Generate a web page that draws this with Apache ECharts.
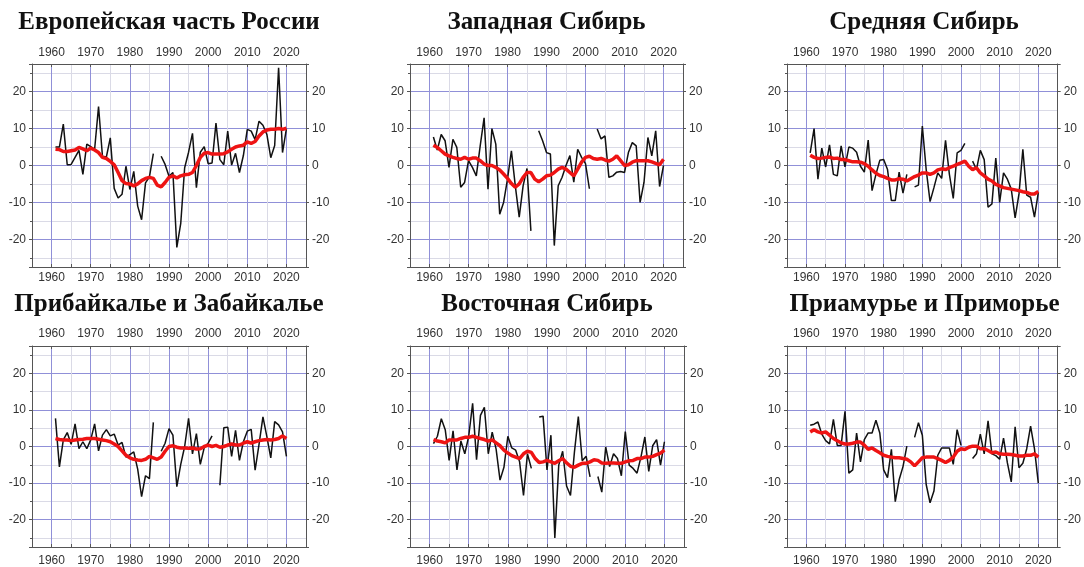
<!DOCTYPE html>
<html>
<head>
<meta charset="utf-8">
<script src="https://cdn.jsdelivr.net/npm/echarts@6/dist/echarts.min.js"></script>
<style>
  html, body { margin: 0; padding: 0; background: #fff; }
  #chart { width: 1084px; height: 567px; }
</style>
</head>
<body>
<div id="chart"></div>
<script>
// годы наблюдений
const years = [
  1961, 1962, 1963, 1964, 1965, 1966, 1967, 1968, 1969, 1970,
  1971, 1972, 1973, 1974, 1975, 1976, 1977, 1978, 1979, 1980,
  1981, 1982, 1983, 1984, 1985, 1986, 1987, 1988, 1989, 1990,
  1991, 1992, 1993, 1994, 1995, 1996, 1997, 1998, 1999, 2000,
  2001, 2002, 2003, 2004, 2005, 2006, 2007, 2008, 2009, 2010,
  2011, 2012, 2013, 2014, 2015, 2016, 2017, 2018, 2019, 2020
];

const titles = [
  'Европейская часть России', 'Западная Сибирь', 'Средняя Сибирь',
  'Прибайкалье и Забайкалье', 'Восточная Сибирь', 'Приамурье и Приморье'
];

const xTicks = [1960, 1970, 1980, 1990, 2000, 2010, 2020];
const yTicks = [-20, -10, 0, 10, 20];

// Европейская часть России
const europeYear = [
  5, 5, 11.2, 0.2, 0.3, 2.2, 4.1, -2.4, 5.8, 5.1,
  4.4, 16, 2.5, 2.3, 7.5, -6.2, -8.8, -7.8, -0.2, -6.5,
  -1.6, -11, -14.7, -4.7, -3.1, 3.2, null, 2.5, 0.3, -2.9,
  -1.9, -22.2, -15.7, -0.6, 3.6, 8.7, -6, 3.6, 5.1, 0.5,
  0.7, 11.5, 1.6, 0.2, 9.3, 0.1, 3.3, -1.9, 2.7, 9.8,
  9.3, 7, 12, 10.9, 8.4, 2.1, 5.4, 26.5, 3.5, 10
];
const europeSmooth = [
  4.4, 4.3, 3.8, 3.8, 4.0, 4.2, 4.9, 4.5, 4.0, 4.7,
  4.2, 3.5, 2.2, 1.9, 1.1, 0.2, -1.9, -4.1, -4.9, -5.0,
  -5.5, -5.0, -4.1, -3.5, -3.2, -3.5, -5.3, -5.8, -4.6, -3.2,
  -2.8, -3.4, -2.8, -2.5, -2.4, -1.9, 0.0, 2.2, 3.3, 3.5,
  3.1, 3.1, 3.1, 3.2, 3.7, 4.4, 5.0, 5.3, 5.5, 6.4,
  6.0, 6.5, 8.0, 9.1, 9.6, 9.8, 9.8, 10.0, 9.8, 10.1
];

// Западная Сибирь
const westYear = [
  7.7, 4.2, 8.4, 6.7, -0.5, 7.1, 4.9, -5.9, -4.6, 1.3,
  -0.5, -2.8, 5.3, 12.9, -6.4, 10.0, 5.8, -13.2, -10.0, -3.7,
  4.0, -5.5, -14.0, -5.5, -0.8, -17.7, null, 9.4, 6.7, 3.5,
  3.1, -21.7, -5.5, -3.2, 0.0, 2.7, -4.5, 4.4, 2.2, 0.5,
  -6.3, null, 9.9, 7.2, 8.0, -3.2, -2.8, -1.8, -1.6, -1.9,
  3.5, 6.2, 5.3, -10.0, -4.6, 7.6, 2.6, 9.4, -5.7, 0.0
];
const westSmooth = [
  5.5, 4.9, 4.0, 3.1, 2.6, 2.2, 1.9, 1.7, 2.2, 1.7,
  2.0, 2.0, 1.3, 0.4, 0.0, 0.0, -0.5, -1.2, -2.3, -3.5,
  -4.9, -5.9, -5.0, -3.2, -1.9, -1.9, -3.7, -4.4, -3.7, -2.8,
  -2.6, -1.9, -1.0, -0.5, -1.0, -1.9, -2.8, -1.0, 0.9, 2.2,
  2.5, 1.9, 1.7, 1.9, 1.5, 1.2, 1.7, 2.6, 1.3, 0.0,
  0.2, 0.9, 1.3, 1.3, 1.3, 1.3, 1.0, 0.6, 0.2, 1.7
];

// Средняя Сибирь
const centralYear = [
  3.4, 10.0, -3.7, 4.7, -0.4, 5.6, -2.4, -2.8, 5.3, -0.4,
  5.0, 4.7, 3.6, -0.2, -1.8, 6.9, -6.8, -2.4, 1.4, 1.6,
  -1.1, -9.5, -9.5, -1.8, -7.5, -2.4, null, -5.8, -5.3, 10.7,
  -1.1, -9.8, -6.0, -2.0, -3.5, 6.8, -2.4, -8.9, 3.4, 4.1,
  6.0, null, 1.2, -1.1, 4.1, 1.6, -11.3, -10.4, 2.0, -10.0,
  -2.0, -3.7, -6.4, -14.2, -7.7, 4.4, -8.0, -8.6, -14.0, -7.3
];
const centralSmooth = [
  2.8, 2.2, 1.9, 2.0, 2.2, 2.3, 1.9, 2.0, 1.6, 1.6,
  1.3, 1.0, 1.0, 0.9, 0.5, -0.2, -1.2, -2.1, -2.7, -3.0,
  -3.5, -3.9, -3.9, -3.6, -3.7, -4.2, -3.6, -3.0, -2.6, -2.0,
  -2.0, -2.4, -2.0, -1.2, -0.9, -1.1, -0.6, -0.2, 0.3, 0.7,
  1.2, -0.2, -1.1, -0.6, -2.0, -2.8, -3.7, -4.2, -5.1, -5.5,
  -6.0, -6.2, -6.4, -6.6, -6.8, -7.1, -7.3, -7.7, -7.7, -7.0
];

// Прибайкалье и Забайкалье
const baikalYear = [
  7.7, -5.6, 1.8, 3.8, 0.6, 6.2, -0.6, 1.3, -0.6, 1.8,
  6.2, -1.2, 3.1, 4.6, 2.9, 3.4, 0.4, 1.1, -2.9, -2.2,
  -1.5, -6.2, -13.7, -8.0, -8.8, 6.6, null, -1.3, 0.9, 4.9,
  3.1, -11.0, -4.9, 0.0, 7.7, -2.0, 3.5, -4.9, -0.3, 0.9,
  2.9, null, -10.6, 5.1, 5.3, -2.7, 4.4, -3.8, 1.3, 4.2,
  4.7, -6.5, 0.6, 8.1, 2.7, -3.1, 6.8, 5.9, 4.0, -2.7
];
const baikalSmooth = [
  2.2, 1.9, 1.8, 1.8, 1.6, 1.8, 1.9, 2.0, 2.2, 2.2,
  2.2, 2.0, 1.8, 1.6, 1.3, 0.7, 0.0, -1.2, -2.4, -3.1,
  -3.5, -3.7, -3.8, -3.5, -2.7, -3.1, -3.5, -2.9, -1.3, 0.0,
  0.2, -0.2, -0.4, -0.4, -0.5, -0.4, -0.7, -0.6, 0.0, 0.4,
  0.0, 0.3, -0.2, 0.0, 0.4, 0.7, 0.4, 0.4, 0.9, 1.3,
  0.9, 1.3, 1.6, 1.8, 1.9, 1.8, 1.9, 2.2, 2.9, 2.2
];

// Восточная Сибирь
const eastYear = [
  0.8, 2.8, 7.6, 4.6, -3.8, 4.3, -6.4, 1.5, -2.0, 2.8,
  11.8, -3.6, 8.5, 10.7, -2.0, 3.9, -0.7, -9.2, -5.7, 2.8,
  -0.4, -1.0, -4.2, -13.4, -2.0, -6.0, null, 8.1, 8.3, -6.4,
  3.1, -25.0, -5.1, -1.3, -10.8, -13.4, -1.6, 8.2, -3.9, -2.7,
  -8.3, null, -8.2, -12.5, -0.1, -5.5, -2.0, -3.3, -8.0, 4.1,
  -5.1, -6.0, -7.3, -2.9, 2.6, -6.8, 0.2, 1.9, -5.1, 1.3
];
const eastSmooth = [
  1.9, 1.5, 1.3, 1.0, 1.8, 1.8, 1.8, 2.2, 2.5, 2.5,
  2.8, 2.5, 2.2, 1.9, 1.5, 1.8, 1.0, 0.2, -1.0, -1.8,
  -2.5, -2.9, -3.3, -2.0, -1.3, -1.6, -3.3, -4.4, -4.2, -3.8,
  -4.2, -4.6, -3.9, -3.3, -4.5, -5.4, -5.7, -5.1, -4.6, -4.6,
  -4.2, -3.6, -3.8, -4.5, -4.6, -4.5, -4.5, -4.6, -4.6, -4.2,
  -3.9, -3.8, -3.3, -3.3, -2.9, -2.9, -2.7, -2.2, -1.8, -1.0
];

// Приамурье и Приморье
const amurYear = [
  5.8, 6.1, 6.7, 3.4, 1.6, 0.7, 7.4, 0.3, 0.3, 9.6,
  -7.3, -6.4, 3.7, -4.2, 1.9, 3.7, 3.7, 7.2, 3.7, -6.4,
  -8.5, -0.8, -15.1, -9.1, -5.5, 0.1, null, 2.5, 6.5, 3.1,
  -10.4, -15.4, -12.2, -2.4, -0.4, -0.4, -0.4, -4.9, 4.6, 0.3,
  null, null, -3.3, -2.0, 3.4, -2.0, 7.0, -2.0, -2.5, -3.5,
  2.3, -4.5, -9.7, 5.4, -5.8, -4.6, -0.6, 5.6, -0.6, -10.0
];
const amurSmooth = [
  4.0, 4.6, 4.0, 3.7, 4.0, 3.1, 2.2, 1.6, 1.0, 0.7,
  0.7, 0.9, 1.2, 1.2, 0.4, -0.8, -0.4, -1.1, -1.7, -2.4,
  -2.7, -2.9, -3.1, -3.1, -3.3, -3.5, -4.2, -5.3, -4.2, -3.1,
  -2.9, -2.9, -2.9, -3.3, -3.8, -4.4, -3.8, -2.9, -1.3, -0.6,
  -0.8, -0.2, 0.1, 0.1, -0.6, -0.6, -1.1, -1.7, -1.5, -2.0,
  -2.1, -2.1, -2.2, -2.4, -2.6, -2.6, -2.4, -2.4, -2.0, -2.9
];

const yearSeries = [europeYear, westYear, centralYear, baikalYear, eastYear, amurYear];
const smoothSeries = [europeSmooth, westSmooth, centralSmooth, baikalSmooth, eastSmooth, amurSmooth];

// расположение панелей
const boxes = [
  { left: 32, top: 64, width: 274, height: 203, titleTop: 10, topMargin: 5, bottomMargin: 5 },
  { left: 410, top: 64, width: 273, height: 203, titleTop: 10, topMargin: 5, bottomMargin: 5 },
  { left: 787, top: 64, width: 274, height: 203, titleTop: 10, topMargin: 5, bottomMargin: 5 },
  { left: 32, top: 346, width: 274, height: 202, titleTop: 292, topMargin: 6, bottomMargin: 8 },
  { left: 410, top: 346, width: 274, height: 202, titleTop: 292, topMargin: 6, bottomMargin: 8 },
  { left: 787, top: 346, width: 275, height: 202, titleTop: 292, topMargin: 6, bottomMargin: 8 }
];

const majorColor = '#9090d8';
const minorColor = '#dadae6';
const frameColor = '#555';
const labelStyle = { fontFamily: 'Liberation Sans, Arial', fontSize: 12, color: '#333' };

const grid = [], xAxis = [], yAxis = [], series = [], title = [];

boxes.forEach((b, i) => {
  grid.push({ left: b.left, top: b.top, width: b.width, height: b.height, containLabel: false });
  title.push({
    text: titles[i],
    left: b.left + b.width / 2,
    top: b.titleTop,
    textAlign: 'center',
    padding: 0,
    textStyle: { fontFamily: 'Liberation Serif, Times New Roman, serif', fontWeight: 'bold', fontSize: 25, color: '#111' }
  });

  // основные оси: годы снизу и сверху
  ['bottom', 'top'].forEach((pos, k) => {
    xAxis.push({
      type: 'value', gridIndex: i, position: pos,
      min: 1955, max: 2025, splitNumber: 7,
      axisLine: { show: true, onZero: false, lineStyle: { color: frameColor, width: 1 } },
      axisTick: { show: true, inside: true, length: 3, lineStyle: { color: frameColor } },
      axisLabel: Object.assign({ margin: k === 0 ? b.bottomMargin : b.topMargin, formatter: v => xTicks.includes(v) ? String(v) : '' }, labelStyle),
      splitLine: { show: k === 0, lineStyle: { color: majorColor, width: 1 } }
    });
  });
  // вспомогательная ось для промежуточных линий (сдвиг на 5 лет)
  xAxis.push({
    type: 'value', gridIndex: i, position: 'bottom',
    min: 1960, max: 2030, splitNumber: 7,
    axisLine: { show: false, onZero: false },
    axisTick: { show: true, inside: true, length: 3, lineStyle: { color: frameColor } },
    axisLabel: { show: false },
    splitLine: { show: true, lineStyle: { color: minorColor, width: 1 } }
  });

  ['left', 'right'].forEach((pos, k) => {
    yAxis.push({
      type: 'value', gridIndex: i, position: pos,
      min: -27.5, max: 27.5, splitNumber: 5,
      axisLine: { show: true, onZero: false, lineStyle: { color: frameColor, width: 1 } },
      axisTick: { show: true, inside: false, length: 3, lineStyle: { color: frameColor } },
      axisLabel: Object.assign({ margin: 6, formatter: v => yTicks.includes(v) ? String(v) : '' }, labelStyle),
      splitLine: { show: k === 0, lineStyle: { color: majorColor, width: 1 } }
    });
  });
  yAxis.push({
    type: 'value', gridIndex: i, position: 'left',
    min: -22.5, max: 32.5, splitNumber: 5,
    axisLine: { show: false, onZero: false },
    axisTick: { show: true, inside: false, length: 2, lineStyle: { color: frameColor } },
    axisLabel: { show: false },
    splitLine: { show: true, lineStyle: { color: minorColor, width: 1 } }
  });

  series.push({
    type: 'line', xAxisIndex: 3 * i, yAxisIndex: 3 * i,
    data: years.map((y, j) => [y, yearSeries[i][j]]),
    showSymbol: false, connectNulls: false,
    lineStyle: { color: '#111', width: 1.5 },
    itemStyle: { color: '#111' },
    z: 3
  });
  series.push({
    type: 'line', xAxisIndex: 3 * i, yAxisIndex: 3 * i,
    data: years.map((y, j) => [y, smoothSeries[i][j]]),
    showSymbol: false,
    lineStyle: { color: '#ee1414', width: 3.5 },
    itemStyle: { color: '#ee1414' },
    z: 4
  });
});

const chart = echarts.init(document.getElementById('chart'));
chart.setOption({
  animation: false,
  backgroundColor: '#fff',
  title: title,
  grid: grid,
  xAxis: xAxis,
  yAxis: yAxis,
  series: series
});
</script>
</body>
</html>
